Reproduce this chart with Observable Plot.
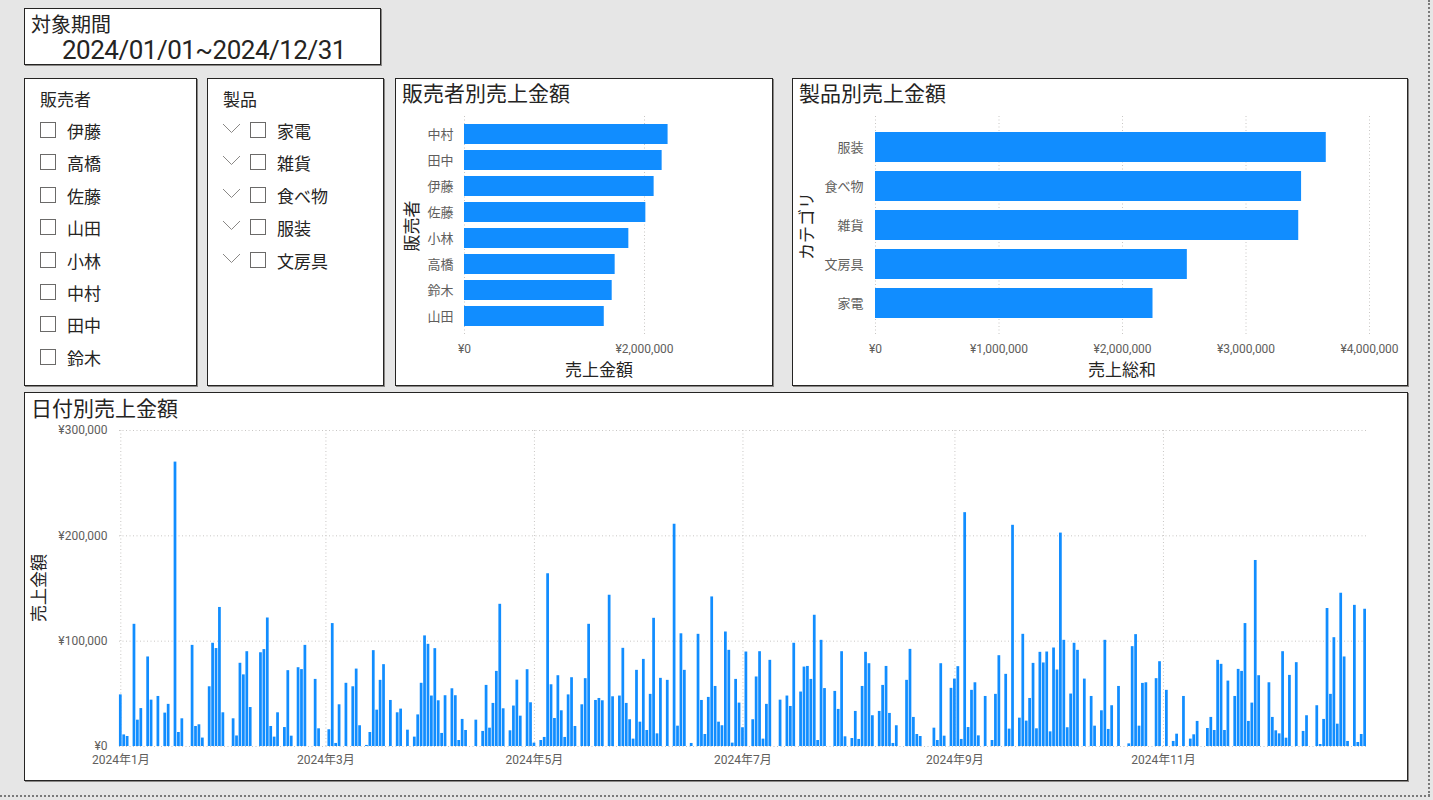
<!DOCTYPE html>
<html><head><meta charset="utf-8">
<script src="https://cdn.jsdelivr.net/npm/d3@7"></script>
<script src="https://cdn.jsdelivr.net/npm/@observablehq/plot@0.6"></script>
<style>
html,body{margin:0;padding:0;background:#E6E6E6;width:1433px;height:800px;overflow:hidden;font-family:"Noto Sans CJK JP","Noto Sans",sans-serif;color:#252423}
.box{position:absolute;background:#fff;border:1px solid #252423;box-sizing:border-box;box-shadow:1px 1px 0 #8a8886}
.t{position:absolute;white-space:nowrap;line-height:1}
.c{transform:translate(-50%,-50%)}
.l{transform:translateY(-50%)}
.r{transform:translate(-50%,-50%) rotate(-90deg)}
.cb{position:absolute;width:16px;height:16px;border:1px solid #6b6a69;box-sizing:border-box;background:#fff}
.chart{position:absolute}
.vline{position:absolute;left:1428px;top:0;width:0;height:796px;border-left:2px dotted #7a7a7a}
.hline{position:absolute;left:0;top:795px;width:1430px;height:0;border-top:2px dotted #7a7a7a}
</style></head>
<body>
<div class="vline"></div><div class="hline"></div>
<div class="box" style="left:24px;top:8px;width:357px;height:57px"></div>
<div class="box" style="left:24px;top:78px;width:173px;height:308px"></div>
<div class="box" style="left:207px;top:78px;width:177px;height:308px"></div>
<div class="box" style="left:395px;top:78px;width:378px;height:308px"></div>
<div class="box" style="left:792px;top:78px;width:616px;height:308px"></div>
<div class="box" style="left:24px;top:392px;width:1384px;height:389px"></div>
<div id="texts"></div>
<div id="sellerChart" class="chart" style="left:395px;top:78px"></div>
<div id="productChart" class="chart" style="left:792px;top:78px"></div>
<div id="dateChart" class="chart" style="left:24px;top:392px"></div>
<script>
// ---------- data ----------
const periodLabel = "対象期間";
const periodText = "2024/01/01~2024/12/31";
const slicerSellers = ["伊藤","高橋","佐藤","山田","小林","中村","田中","鈴木"];
const slicerProducts = ["家電","雑貨","食べ物","服装","文房具"];

const sellers = ["中村","田中","伊藤","佐藤","小林","高橋","鈴木","山田"];
const sellerSales = [2262000, 2196000, 2107000, 2015000, 1826000, 1674000, 1641000, 1553000];
const sellerTicks = [0, 2000000];

const categories = ["服装","食べ物","雑貨","文房具","家電"];
const categorySales = [3650000, 3450000, 3427000, 2525000, 2247000];
const categoryTicks = [0, 1000000, 2000000, 3000000, 4000000];

// daily sales per month (null = no sales that day)
const jan = [49000,11000,9500,null,116000,25000,36000,null,85000,44000,null,47500,null,31700,40000,null,270000,13300,26300,null,null,96000,19000,20600,8000,null,56700,98000,93000,132000,32000];
const feb = [null,null,26300,10000,79000,68000,90000,37000,null,null,89000,92000,122000,19000,8900,32000,null,18000,72000,9800,null,74800,73000,96000,null,null,63700,16800,null];
const mar = [null,15900,116700,2900,39600,null,60000,null,56700,73500,19700,null,1000,13300,91000,34500,62800,77700,null,43700,null,32000,35500,null,15500,null,8900,30000,60000,105000,97000];
const apr = [47900,92900,43400,12400,48200,null,54800,48200,5700,25700,15200,null,null,25000,null,14300,58000,17400,40900,71300,135000,35800,null,14900,38400,63000,28800,null,72900,41500];
const may = [3200,null,5700,8600,164000,58600,26600,67200,33900,8600,49000,65300,19000,null,39600,64400,116000,null,43700,45600,43400,null,143600,47200,null,47900,93200,40900,25400,7000,72300];
const jun = [23100,82700,15200,49500,121700,12000,64700,null,62800,null,211000,19300,107000,72300,null,2900,null,106500,43700,11400,46600,142000,57000,23100,19700,108700,91300,3200,63700,41200];
const jul = [17800,89700,null,25400,66000,90000,7000,40000,81800,null,null,44000,null,47900,38000,98000,null,51700,75400,76000,63700,124600,5700,100800,55000,null,null,52300,35200,90000,9200];
const aug = [null,7600,33300,6700,57000,89400,78600,29200,null,33300,58000,76000,31400,2900,19700,null,null,62800,92200,27600,11400,9500,null,null,null,17400,5700,78600,9800,null,55200];
const sep = [64000,75800,6700,222000,18000,53300,60500,10100,null,47500,null,5700,49500,86200,null,68500,16500,210000,null,26900,106500,24100,45600,78900,16800,89400,79300,89700,13900,93500];
const oct = [72600,202600,100800,17800,49800,98000,91300,null,64000,null,47500,19300,null,33900,100800,16200,38700,null,57000,null,null,2500,94800,106200,19300,59900,60500,null,null,64400,80500];
const nov = [null,53300,null,4800,11700,null,47500,null,7000,11100,23800,null,null,17100,27600,15200,81800,78000,15200,62100,null,47500,73200,71300,116700,23800,41200,176600,67200,null];
const dec = [null,60500,27600,14900,12000,90000,7900,67500,null,79600,null,14300,29200,null,null,38700,1900,25700,131000,49500,103300,21200,145500,85000,4800,null,134000,3800,11400,130300,null];
const monthly = [jan,feb,mar,apr,may,jun,jul,aug,sep,oct,nov,dec];

const dateTicks = ["2024-01-01","2024-03-01","2024-05-01","2024-07-01","2024-09-01","2024-11-01"];
const dateTickLabels = ["2024年1月","2024年3月","2024年5月","2024年7月","2024年9月","2024年11月"];
const salesTicks = [0, 100000, 200000, 300000];

// ---------- helpers ----------
const DAY = 86400000;
const yen = d => "¥" + d3.format(",")(d);
const BLUE = "#118DFF";
const GRID = "#C8C6C4";
const TICK = "#605E5C";
const FONT = 'Roboto,"Noto Sans CJK JP","Noto Sans",sans-serif';
const texts = document.getElementById("texts");
function txt(s, x, y, size, cls, extra) {
  const d = document.createElement("div");
  d.className = "t " + cls;
  d.textContent = s;
  d.style.left = x + "px"; d.style.top = y + "px";
  d.style.fontSize = size + "px";
  if (extra) Object.assign(d.style, extra);
  texts.appendChild(d);
  return d;
}

// ---------- static texts & slicers ----------
txt(periodLabel, 31, 24, 20, "l");
txt(periodText, 62, 49.5, 26, "l", {fontFamily: "Roboto", letterSpacing: "-0.5px"});
txt("販売者", 40, 98, 17, "l");
txt("製品", 223, 98, 17, "l");
slicerSellers.forEach((s, i) => {
  const cb = document.createElement("div"); cb.className = "cb";
  cb.style.left = "40px"; cb.style.top = (122 + i * 32.4) + "px"; texts.appendChild(cb);
  txt(s, 67, 130 + i * 32.4, 17, "l");
});
slicerProducts.forEach((s, i) => {
  const cb = document.createElement("div"); cb.className = "cb";
  cb.style.left = "250px"; cb.style.top = (122 + i * 32.4) + "px"; texts.appendChild(cb);
  const ns = "http://www.w3.org/2000/svg";
  const sv = document.createElementNS(ns, "svg");
  sv.setAttribute("width", 20); sv.setAttribute("height", 12);
  sv.style.position = "absolute"; sv.style.left = "222px"; sv.style.top = (123 + i * 32.4) + "px";
  const pl = document.createElementNS(ns, "polyline");
  pl.setAttribute("points", "1,1 9.5,9.5 18,1"); pl.setAttribute("fill", "none");
  pl.setAttribute("stroke", "#8a8886"); pl.setAttribute("stroke-width", "1");
  sv.appendChild(pl); texts.appendChild(sv);
  txt(s, 277, 130 + i * 32.4, 17, "l");
});
txt("販売者別売上金額", 402, 92, 21, "l");
txt("製品別売上金額", 799, 92, 21, "l");
txt("日付別売上金額", 31, 407, 21, "l");
txt("売上金額", 599, 368, 17, "c");
txt("売上総和", 1122, 368, 17, "c");
txt("販売者", 410, 226, 17, "r");
txt("カテゴリ", 805, 226, 17, "r");
txt("売上金額", 37, 588, 17, "r");

const baseStyle = {background: "transparent", fontFamily: FONT, fontSize: "12px", color: TICK, overflow: "visible"};

// ---------- seller chart ----------
const sellerData = sellers.map((n, i) => ({name: n, value: sellerSales[i]}));
document.getElementById("sellerChart").appendChild(Plot.plot({
  width: 378, height: 308, marginLeft: 69, marginRight: 84, marginTop: 38, marginBottom: 51,
  style: baseStyle,
  x: {domain: [0, 2500000], label: null},
  y: {domain: sellers, paddingInner: 0.23, paddingOuter: 0.3, label: null},
  marks: [
    Plot.gridX({ticks: sellerTicks, stroke: GRID, strokeOpacity: 1, strokeDasharray: "1,2.5"}),
    Plot.barX(sellerData, {x: "value", y: "name", fill: BLUE}),
    Plot.axisX({ticks: sellerTicks, tickFormat: yen, tickSize: 0, tickPadding: 9, label: null}),
    Plot.axisY({tickSize: 0, tickPadding: 11, fontSize: 13, label: null})
  ]
}));

// ---------- product chart ----------
const catData = categories.map((n, i) => ({name: n, value: categorySales[i]}));
document.getElementById("productChart").appendChild(Plot.plot({
  width: 616, height: 308, marginLeft: 83, marginRight: 39, marginTop: 38, marginBottom: 51,
  style: baseStyle,
  x: {domain: [0, 4000000], label: null},
  y: {domain: categories, paddingInner: 0.23, paddingOuter: 0.36, label: null},
  marks: [
    Plot.gridX({ticks: categoryTicks, stroke: GRID, strokeOpacity: 1, strokeDasharray: "1,2.5"}),
    Plot.barX(catData, {x: "value", y: "name", fill: BLUE}),
    Plot.axisX({ticks: categoryTicks, tickFormat: yen, tickSize: 0, tickPadding: 9, label: null}),
    Plot.axisY({tickSize: 0, tickPadding: 12, fontSize: 13, label: null})
  ]
}));

// ---------- date chart ----------
const daily = [];
monthly.forEach((arr, m) => arr.forEach((v, i) => {
  if (v != null) daily.push({date: new Date(Date.UTC(2024, m, i + 1)), value: v});
}));
const tickDates = dateTicks.map(s => new Date(s + "T00:00:00Z"));
const fmtDate = d => dateTickLabels[tickDates.findIndex(t => +t === +d)];
document.getElementById("dateChart").appendChild(Plot.plot({
  width: 1384, height: 389, marginLeft: 95, marginRight: 42, marginTop: 38, marginBottom: 35,
  style: baseStyle,
  x: {type: "utc", domain: [new Date(Date.UTC(2024, 0, 1) - 0.38 * DAY), new Date(Date.UTC(2024, 11, 30) + 0.4 * DAY)], label: null},
  y: {domain: [0, 300000], label: null},
  marks: [
    Plot.gridY({ticks: salesTicks, stroke: GRID, strokeOpacity: 1, strokeDasharray: "1,2.5"}),
    Plot.gridX({ticks: tickDates, stroke: GRID, strokeOpacity: 1, strokeDasharray: "1,2.5"}),
    Plot.rectY(daily, {x1: d => new Date(+d.date - 0.4 * DAY), x2: d => new Date(+d.date + 0.4 * DAY), y1: 0, y2: "value", fill: BLUE}),
    Plot.axisY({ticks: salesTicks, tickFormat: yen, tickSize: 0, tickPadding: 12, label: null}),
    Plot.axisX({ticks: tickDates, tickFormat: fmtDate, tickSize: 0, tickPadding: 9, label: null})
  ]
}));
</script>
</body></html>
